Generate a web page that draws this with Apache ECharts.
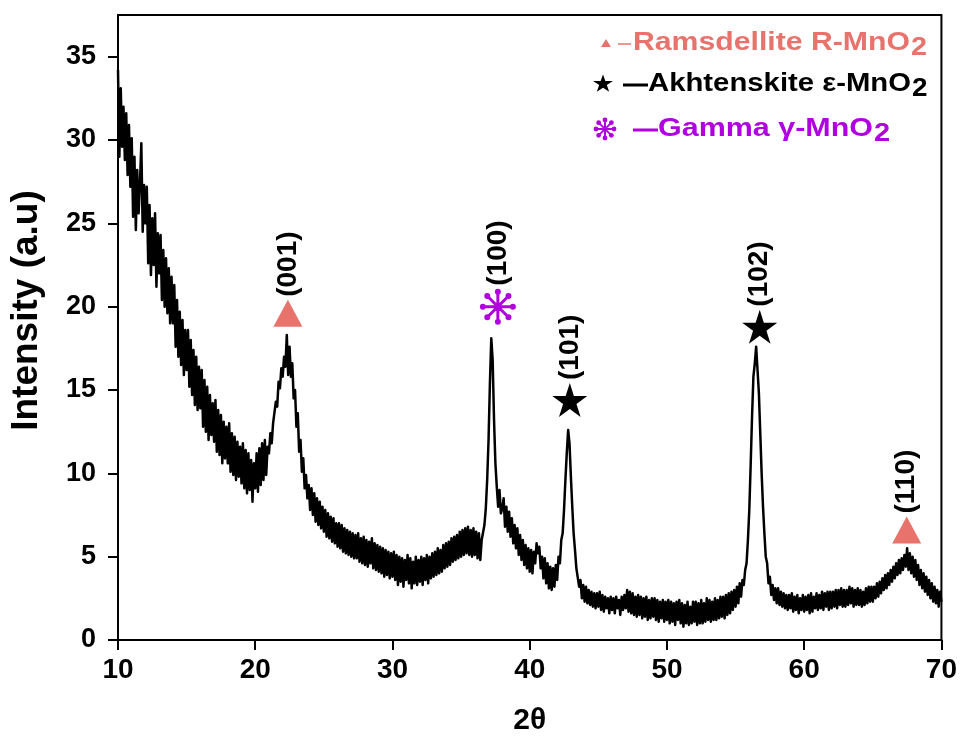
<!DOCTYPE html>
<html><head><meta charset="utf-8">
<script src="https://cdn.jsdelivr.net/npm/echarts@6/dist/echarts.min.js"></script>
<style>html,body{margin:0;padding:0;background:#fff}#c{width:960px;height:742px}</style>
</head><body><div id="c"></div>
<script>
const FONT = "'Liberation Sans', Arial, Helvetica, sans-serif";
const twoThetaStart = 10, twoThetaStep = 0.1;
const intensity = [
34.2,29.0,33.1,29.6,32.0,28.8,31.6,27.9,30.9,27.2,
30.1,25.4,29.0,24.6,28.2,25.6,27.4,29.8,24.5,27.3,
25.0,27.2,22.6,26.1,21.9,25.3,22.5,25.6,21.2,24.4,
22.0,24.3,20.4,23.4,20.0,22.9,19.6,22.3,19.0,21.8,
19.0,21.3,17.6,20.4,17.0,19.7,16.5,19.2,15.9,18.6,
16.2,18.6,15.2,18.0,14.7,17.4,14.1,17.0,13.8,16.4,
13.9,16.2,12.8,15.6,12.5,15.2,12.0,14.7,12.3,14.2,
11.9,14.4,11.3,13.8,11.1,13.5,10.6,13.1,10.9,12.8,
10.6,13.0,10.1,12.4,9.9,12.2,9.6,11.9,9.8,11.6,
9.4,11.8,9.1,11.4,8.8,11.2,9.0,10.8,8.3,10.6,
9.1,11.2,8.9,11.5,9.3,11.8,9.6,12.0,9.9,11.6,
11.2,12.4,11.8,13.0,12.9,14.3,14.0,15.5,15.1,16.3,
15.8,17.0,16.4,18.3,15.9,17.6,15.8,16.6,14.5,15.0,
12.8,13.6,11.3,12.0,10.1,10.9,9.1,9.9,8.5,9.3,
7.8,9.1,7.5,8.8,7.1,8.5,6.9,8.3,6.7,8.0,
6.5,7.8,6.2,7.6,6.1,7.4,5.9,7.3,5.8,7.0,
5.6,7.0,5.5,6.9,5.3,6.7,5.2,6.6,5.1,6.5,
5.0,6.4,4.9,6.3,4.9,6.4,4.7,6.1,4.6,6.2,
4.5,6.0,4.4,5.9,4.6,6.1,4.3,5.8,4.2,5.7,
4.1,5.6,4.0,5.5,3.8,5.4,3.9,5.3,3.7,5.2,
3.8,5.3,3.6,5.1,3.3,5.0,3.5,4.9,3.2,4.8,
3.6,5.1,3.4,4.9,3.1,4.7,3.4,5.0,3.3,4.8,
3.5,5.0,3.3,4.9,3.6,5.1,3.4,5.0,3.7,5.2,
3.8,5.3,3.9,5.5,4.0,5.4,4.1,5.7,4.3,5.8,
4.4,5.9,4.5,6.1,4.7,6.2,4.8,6.3,4.9,6.5,
5.0,6.6,5.1,6.7,5.2,6.8,5.1,6.6,5.0,6.7,
5.1,6.5,4.9,6.4,4.8,6.0,5.9,6.9,7.9,9.6,
12.0,15.4,18.1,16.8,13.2,10.6,9.2,8.0,9.0,7.6,
7.9,8.5,6.8,8.0,6.5,7.7,6.2,7.3,5.8,6.9,
5.5,6.7,5.1,6.3,4.8,6.0,4.5,5.7,4.3,5.5,
4.1,5.4,4.0,5.3,4.6,5.8,5.2,5.6,4.3,5.0,
3.7,4.9,3.4,4.6,3.1,4.4,3.0,4.3,3.2,4.5,
3.6,5.0,4.6,6.0,6.4,7.8,9.6,11.2,12.6,11.8,
9.8,8.0,6.4,5.4,4.3,4.3,3.2,3.6,2.5,3.3,
2.3,3.2,2.2,3.0,2.1,2.9,2.0,2.8,1.9,2.8,
2.0,2.9,1.8,2.7,1.7,2.6,1.9,2.5,1.6,2.6,
1.8,2.5,1.6,2.6,1.9,2.4,1.5,2.6,1.8,2.7,
1.9,3.0,1.7,2.9,1.6,2.8,1.5,2.6,1.4,2.7,
1.5,2.6,1.3,2.5,1.4,2.6,1.2,2.4,1.3,2.5,
1.4,2.5,1.2,2.4,1.1,2.3,1.3,2.4,1.1,2.3,
1.2,2.4,1.0,2.3,1.1,2.2,0.9,2.3,1.2,2.4,
1.0,2.2,0.8,2.1,1.0,2.3,0.9,2.0,1.0,2.3,
1.1,2.3,0.9,2.2,1.0,2.4,1.0,2.2,1.1,2.5,
1.2,2.4,1.1,2.3,1.2,2.5,1.2,2.4,1.3,2.6,
1.4,2.6,1.3,2.7,1.5,2.8,1.6,2.9,1.8,3.0,
2.0,3.2,2.2,3.4,2.6,3.6,3.3,4.2,4.6,6.0,
7.8,10.5,13.4,15.8,16.6,17.6,16.2,14.8,12.4,10.0,
8.0,6.4,5.0,4.6,3.4,3.8,2.7,3.3,2.4,3.1,
2.2,3.1,2.1,2.9,2.0,2.8,1.9,2.7,1.8,2.7,
1.9,2.8,1.7,2.6,1.8,2.7,1.6,2.5,1.8,2.7,
1.7,2.6,1.8,2.7,1.6,2.8,1.7,2.6,1.9,2.8,
1.8,2.7,1.9,2.9,1.8,2.8,2.0,2.9,1.8,2.9,
1.9,2.9,2.0,3.0,1.9,3.0,2.1,3.1,2.0,3.0,
2.0,3.0,2.1,3.2,2.2,3.1,2.0,3.0,2.1,3.1,
2.1,3.0,2.0,2.9,2.1,3.1,2.2,3.2,2.3,3.2,
2.3,3.2,2.5,3.4,2.6,3.5,2.8,3.7,3.0,3.9,
3.1,4.0,3.3,4.2,3.5,4.4,3.7,4.6,3.9,4.8,
4.0,4.9,4.2,5.1,4.4,5.5,4.2,5.2,4.0,5.0,
3.8,4.8,3.6,4.5,3.3,4.2,3.1,4.0,2.9,3.8,
2.7,3.6,2.5,3.4,2.3,3.2,2.2,3.0,2.0,2.9,
2.3
];
const xTicks = [10, 20, 30, 40, 50, 60, 70];
const yTicks = [0, 5, 10, 15, 20, 25, 30, 35];
const phaseNames = ['Ramsdellite R-MnO2', 'Akhtenskite \u03b5-MnO2', 'Gamma \u03b3-MnO2'];
const ramsdellitePeaks = [[22.38, 19.6, '(001)'], [67.47, 6.6, '(110)']];
const akhtenskitePeaks = [[42.92, 14.4, '(101)'], [56.76, 18.8, '(102)']];
const gammaPeaks = [[37.68, 20.0, '(100)']];

const SALMON = '#e8736c', MAGENTA = '#b000e0';
const STAR_PTS = [[50,0],[61.2,34.5],[97.6,34.5],[68.2,55.9],[79.4,90.5],[50,69.1],[20.6,90.5],[31.8,55.9],[2.4,34.5],[38.8,34.5]];
const STAR = 'path://M' + STAR_PTS.map(p => p.join(',')).join('L') + 'Z';
const AST_D = 'M8,46L92,46L92,54L8,54Z M46,8L54,8L54,92L46,92Z M23.13,17.47L82.53,76.87L76.87,82.53L17.47,23.13Z M76.87,17.47L82.53,23.13L23.13,82.53L17.47,76.87Z ' +
 'M82,50a8,8 0 1,1 16,0a8,8 0 1,1 -16,0Z M2,50a8,8 0 1,1 16,0a8,8 0 1,1 -16,0Z M42,90a8,8 0 1,1 16,0a8,8 0 1,1 -16,0Z M42,10a8,8 0 1,1 16,0a8,8 0 1,1 -16,0Z ' +
 'M70.28,78.28a8,8 0 1,1 16,0a8,8 0 1,1 -16,0Z M13.72,21.72a8,8 0 1,1 16,0a8,8 0 1,1 -16,0Z M13.72,78.28a8,8 0 1,1 16,0a8,8 0 1,1 -16,0Z M70.28,21.72a8,8 0 1,1 16,0a8,8 0 1,1 -16,0Z';
const ASTER = 'path://' + AST_D;

const lineData = intensity.map((v, i) => [+(twoThetaStart + i * twoThetaStep).toFixed(1), v]);
const toPts = arr => arr.map(p => ({ value: [p[0], p[1]], name: p[2] }));

const peakLabel = {
  show: true, formatter: '{b}', position: 'top', rotate: 90, align: 'left', verticalAlign: 'middle',
  distance: 3, color: '#000', fontSize: 28, fontWeight: 'bold', fontFamily: FONT
};

// legend (graphic)
const ctx = document.createElement('canvas').getContext('2d');
function tw(t, size) { ctx.font = 'bold ' + size + 'px ' + FONT; return ctx.measureText(t).width; }
const legendRows = [
  { y: 43, tx: 633, width: 277, color: SALMON, sym: 'tri', symX: 606, symW: 10, symH: 8, lx1: 618, lx2: 631, lw: 1.5 },
  { y: 84, tx: 648, width: 263, color: '#000', sym: 'star', symX: 603, symW: 21, symH: 19, lx1: 623, lx2: 648, lw: 3 },
  { y: 129, tx: 658, width: 215, color: MAGENTA, sym: 'ast', symX: 605, symW: 23, symH: 22, lx1: 633, lx2: 658, lw: 3 }
];
const FS = 25;
const graphics = [];
legendRows.forEach((r, i) => {
  const full = phaseNames[i];
  const main = full.slice(0, -1), sub = full.slice(-1);
  if (r.sym === 'tri') {
    graphics.push({ type: 'polygon', shape: { points: [[r.symX, r.y - r.symH / 2], [r.symX + r.symW / 2, r.y + r.symH / 2], [r.symX - r.symW / 2, r.y + r.symH / 2]] }, style: { fill: r.color } });
  } else if (r.sym === 'star') {
    const pts = STAR_PTS.map(p => [r.symX - r.symW / 2 + p[0] / 100 * r.symW, r.y - r.symH / 2 + p[1] / 100 * r.symH]);
    graphics.push({ type: 'polygon', shape: { points: pts }, style: { fill: r.color } });
  } else {
    const R = r.symW / 2 - 2.5;
    for (let k = 0; k < 4; k++) {
      const a = k * Math.PI / 4, dx = Math.cos(a) * R, dy = Math.sin(a) * R;
      graphics.push({ type: 'line', shape: { x1: r.symX - dx, y1: r.y - dy, x2: r.symX + dx, y2: r.y + dy }, style: { stroke: r.color, lineWidth: 2 } });
    }
    for (let k = 0; k < 8; k++) {
      const a = k * Math.PI / 4;
      graphics.push({ type: 'circle', shape: { cx: r.symX + Math.cos(a) * R, cy: r.y + Math.sin(a) * R, r: 2.4 }, style: { fill: r.color } });
    }
  }
  graphics.push({ type: 'line', shape: { x1: r.lx1, y1: r.y + 1, x2: r.lx2, y2: r.y + 1 }, style: { stroke: r.color, lineWidth: r.lw } });
  const scale = r.width / tw(main, FS);
  graphics.push({ type: 'text', x: r.tx, y: r.y, scaleX: scale, style: { text: main, fill: r.color, font: 'bold ' + FS + 'px ' + FONT, textAlign: 'left', textVerticalAlign: 'middle' } });
  graphics.push({ type: 'text', x: r.tx + r.width + 1, y: r.y + 5, scaleX: scale * 0.95, style: { text: sub, fill: r.color, font: 'bold ' + FS + 'px ' + FONT, textAlign: 'left', textVerticalAlign: 'middle' } });
});

const chart = echarts.init(document.getElementById('c'), null, { renderer: 'canvas' });
chart.setOption({
  animation: false,
  backgroundColor: '#fff',
  textStyle: { fontFamily: FONT },
  grid: { left: 118, right: 18, top: 15, bottom: 102, show: true, borderColor: '#000', borderWidth: 2, containLabel: false },
  xAxis: {
    type: 'value', min: 10, max: 70, interval: 10,
    name: '2\u03b8', nameLocation: 'middle', nameGap: 66,
    nameTextStyle: { fontSize: 30, fontWeight: 'bold', color: '#000', fontFamily: FONT },
    axisLine: { lineStyle: { color: '#000', width: 2 } },
    axisTick: { show: true, length: 10, lineStyle: { width: 2, color: '#000' }, customValues: xTicks },
    axisLabel: { fontSize: 28, fontWeight: 'bold', color: '#000', margin: 16, fontFamily: FONT, customValues: xTicks },
    splitLine: { show: false }
  },
  yAxis: {
    type: 'value', min: 0, max: 37.5, interval: 5,
    name: 'Intensity (a.u)', nameLocation: 'middle', nameGap: 73, nameRotate: 90,
    nameTextStyle: { fontSize: 37, fontWeight: 'bold', color: '#000', fontFamily: FONT, padding: [0, 0, 0, 34] },
    axisLine: { show: true, lineStyle: { color: '#000', width: 2 } },
    axisTick: { show: true, length: 10, lineStyle: { width: 2, color: '#000' }, customValues: yTicks },
    axisLabel: { fontSize: 27, fontWeight: 'bold', color: '#000', margin: 22, fontFamily: FONT, customValues: yTicks },
    splitLine: { show: false }
  },
  series: [
    { type: 'line', name: 'XRD', data: lineData, showSymbol: false, symbol: 'none', lineStyle: { color: '#000', width: 2.5, join: 'round' }, z: 2 },
    { type: 'scatter', name: phaseNames[0], data: toPts(ramsdellitePeaks), symbol: 'triangle', symbolSize: [29, 27], itemStyle: { color: SALMON, opacity: 1 }, label: peakLabel, z: 5 },
    { type: 'scatter', name: phaseNames[1], data: toPts(akhtenskitePeaks), symbol: STAR, symbolSize: [35, 34], itemStyle: { color: '#000', opacity: 1 }, label: peakLabel, z: 5 },
    { type: 'scatter', name: phaseNames[2], data: toPts(gammaPeaks), symbol: ASTER, symbolSize: [36, 36], itemStyle: { color: MAGENTA, opacity: 1 }, label: peakLabel, z: 5 }
  ],
  graphic: graphics
});
</script>
</body></html>
